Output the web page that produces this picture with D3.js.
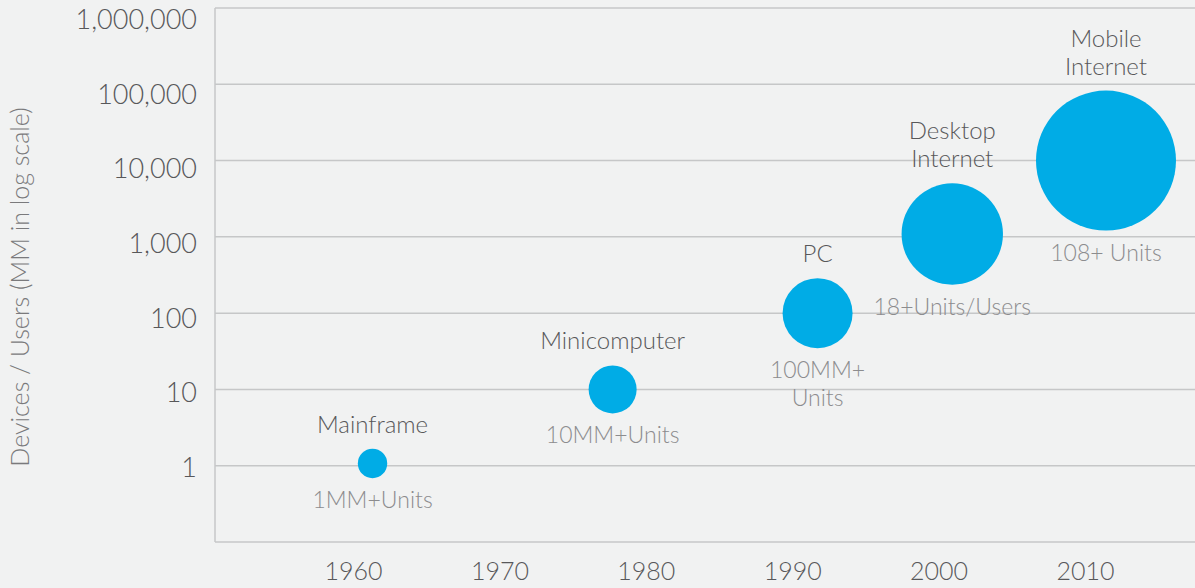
<!DOCTYPE html>
<html>
<head>
<meta charset="utf-8">
<script src="https://cdn.jsdelivr.net/npm/d3@7"></script>
<style>
    html, body { margin: 0; padding: 0; background: #f1f2f2; }
    svg { display: block; font-family: Lato, 'Open Sans', sans-serif; font-weight: 300; }
    .grid line { stroke: #c6c7c8; stroke-width: 1.5; }
    .tick-label { fill: #58585a; font-size: 25px; }
    .tick-label--y { font-size: 27px; }
    .era-name { fill: #58585a; font-size: 24px; }
    .era-units { fill: #8c8c8e; font-size: 23px; }
    .axis-title { fill: #7a7a7c; font-size: 25px; }
</style>
</head>
<body>
<svg id="chart"></svg>
<script>
const WIDTH = 1195
const HEIGHT = 588

// chart data
const eras = ['Mainframe', 'Minicomputer', 'PC', 'Desktop Internet', 'Mobile Internet']
const eraYears = [1961.3, 1977.7, 1991.7, 2000.9, 2011.4]
const eraUsers = [1.07, 10, 100, 1090, 10000]
const eraSize = [0.9, 2.4, 5.1, 10.7, 20.4]
const eraNameLines = [['Mainframe'], ['Minicomputer'], ['PC'], ['Desktop', 'Internet'], ['Mobile', 'Internet']]
const eraUnitLines = [['1MM+Units'], ['10MM+Units'], ['100MM+', 'Units'], ['18+Units/Users'], ['108+ Units']]

const yTicks = [1, 10, 100, 1000, 10000, 100000, 1000000]
const xTicks = [1960, 1970, 1980, 1990, 2000, 2010]
const yTitle = 'Devices / Users (MM in log scale)'

const plot = { left: 215, right: WIDTH, top: 8, bottom: 542 }
const LINE_HEIGHT = 28

const x = d3.scaleLinear().domain([1950.54, 2017.48]).range([plot.left, plot.right])
const y = d3.scaleLog().domain([0.1, 1000000]).range([plot.bottom, plot.top])
// tick labels sit a little off the gridlines in the original
const yLabel = d3.scaleLog().domain([1, 1000000]).range([477, 29])
const r = d3.scaleSqrt().domain([0, 20.4]).range([0, 70])

const svg = d3.select('#chart')
    .attr('width', WIDTH)
    .attr('height', HEIGHT)
    .attr('viewBox', [0, 0, WIDTH, HEIGHT].join(' '))

const data = eras.map((name, i) => ({
    name,
    year: eraYears[i],
    users: eraUsers[i],
    size: eraSize[i],
    nameLines: eraNameLines[i],
    unitLines: eraUnitLines[i],
}))

// gridlines + axis frame
const grid = svg.append('g').classed('grid', true)

grid.selectAll('line.h')
    .data([0.1, ...yTicks])
    .join('line')
    .attr('class', 'h')
    .attr('x1', plot.left)
    .attr('x2', plot.right)
    .attr('y1', d => y(d))
    .attr('y2', d => y(d))

grid.append('line')
    .attr('x1', plot.left)
    .attr('x2', plot.left)
    .attr('y1', plot.top)
    .attr('y2', plot.bottom)

// y tick labels
svg.append('g')
    .selectAll('text')
    .data(yTicks)
    .join('text')
    .classed('tick-label tick-label--y', true)
    .attr('x', 197)
    .attr('y', d => yLabel(d))
    .attr('text-anchor', 'end')
    .text(d3.format(','))

// x tick labels
svg.append('g')
    .selectAll('text')
    .data(xTicks)
    .join('text')
    .classed('tick-label', true)
    .attr('x', d => x(d))
    .attr('y', 580)
    .attr('text-anchor', 'middle')
    .text(d => d)

// y axis title
svg.append('text')
    .classed('axis-title', true)
    .attr('transform', `translate(29,${(plot.top + plot.bottom) / 2 + 12}) rotate(-90)`)
    .attr('text-anchor', 'middle')
    .text(yTitle)

// bubbles
const era = svg.append('g')
    .selectAll('g')
    .data(data)
    .join('g')

era.append('circle')
    .attr('cx', d => x(d.year))
    .attr('cy', d => y(d.users))
    .attr('r', d => r(d.size))
    .attr('fill', '#00ace6')

// names above the bubble (last line closest), units below
era.each(function (d) {
    const g = d3.select(this)
    const cx = x(d.year)
    const cy = y(d.users)
    const rad = r(d.size)
    const n = d.nameLines.length

    g.selectAll('text.era-name')
        .data(d.nameLines)
        .join('text')
        .classed('era-name', true)
        .attr('x', cx)
        .attr('y', (line, i) => cy - rad - 16 - (n - 1 - i) * LINE_HEIGHT)
        .attr('text-anchor', 'middle')
        .text(line => line)

    g.selectAll('text.era-units')
        .data(d.unitLines)
        .join('text')
        .classed('era-units', true)
        .attr('x', cx)
        .attr('y', (line, i) => cy + rad + 30 + i * LINE_HEIGHT)
        .attr('text-anchor', 'middle')
        .text(line => line)
})
</script>
</body>
</html>
